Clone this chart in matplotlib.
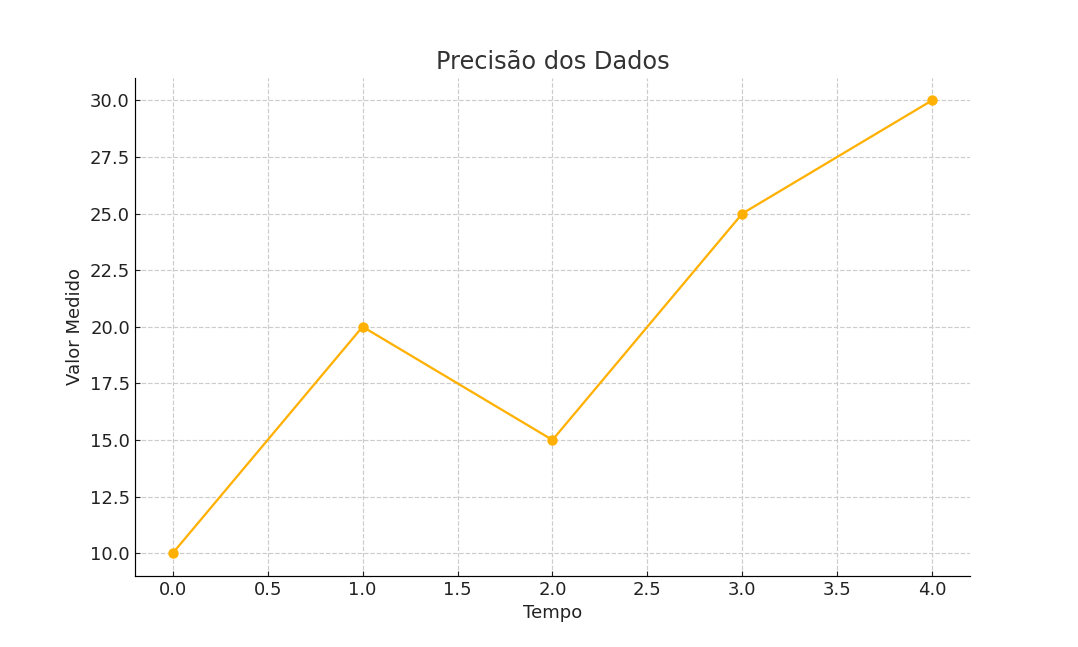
import matplotlib
matplotlib.use("Agg")
import matplotlib.pyplot as plt

plt.rcParams['font.family'] = ['DejaVu Sans']
s = 1.078

tempo = [0, 1, 2, 3, 4]
valor = [10, 20, 15, 25, 30]

fig, ax = plt.subplots(figsize=(10.78, 6.47), dpi=100)
ax.plot(tempo, valor, color='#FFB000', marker='o', markersize=6 * s, linewidth=1.5 * s)
ax.set_title('Precisão dos Dados', fontsize=16 * s, color='#333333')
ax.set_xlabel('Tempo', fontsize=12 * s, color='#222222')
ax.set_ylabel('Valor Medido', fontsize=12 * s, color='#222222')
ax.grid(True, linestyle='--', color='#cccccc', linewidth=0.8 * s)
ax.set_axisbelow(True)
for sp in ['top', 'right']:
    ax.spines[sp].set_visible(False)
for sp in ['left', 'bottom']:
    ax.spines[sp].set_linewidth(0.8 * s)
ax.tick_params(direction='in', labelsize=12 * s, colors='#222222', length=3.5 * s)
ax.set_xticks([0, 0.5, 1, 1.5, 2, 2.5, 3, 3.5, 4])
ax.set_yticks([10, 12.5, 15, 17.5, 20, 22.5, 25, 27.5, 30])
fig.savefig('out.png', dpi=100)
